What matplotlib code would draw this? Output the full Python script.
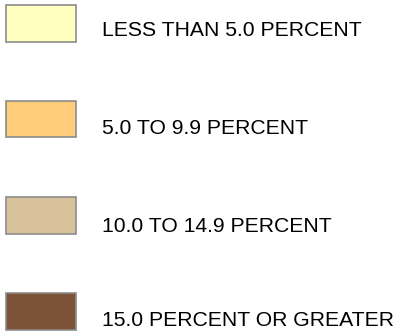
import matplotlib.pyplot as plt
from matplotlib.patches import Rectangle

# legend classes
labels = ['LESS THAN 5.0 PERCENT', '5.0 TO 9.9 PERCENT',
          '10.0 TO 14.9 PERCENT', '15.0 PERCENT OR GREATER']
colors = ['#FFFFC0', '#FFCC7A', '#D6C19B', '#7D5337']

fig = plt.figure(figsize=(3.96, 3.33), dpi=100)
ax = fig.add_axes([0, 0, 1, 1])
ax.set_xlim(0, 396)
ax.set_ylim(333, 0)
ax.axis('off')

# layout in pixels (top of each box, text baseline)
box_top = [5, 100.5, 197, 293]
text_base = [36, 133.7, 231.7, 326]
for i, (lab, col) in enumerate(zip(labels, colors)):
    ax.add_patch(Rectangle((5.8, box_top[i]), 70, 36.5, facecolor=col,
                           edgecolor='#8c8c8c', linewidth=1.2))
    ax.text(102.5, text_base[i], lab, fontsize=15.2, family='Liberation Sans',
            va='baseline', ha='left', color='black')

fig.savefig('out.png', dpi=100)
